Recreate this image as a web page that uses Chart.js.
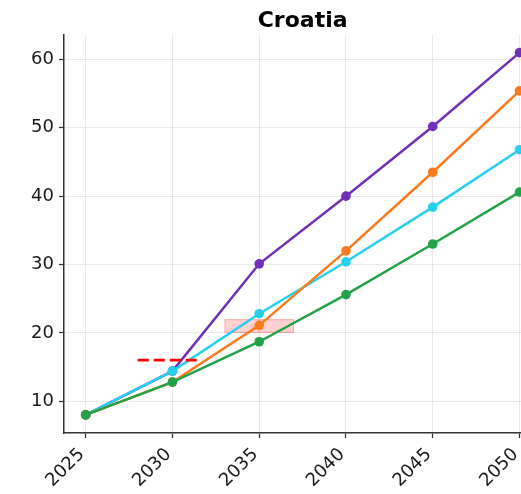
<!DOCTYPE html>
<html>
<head>
<meta charset="utf-8">
<script src="https://cdn.jsdelivr.net/npm/chart.js@4/dist/chart.umd.min.js"></script>
<style>
  html, body { margin: 0; padding: 0; overflow: hidden; background: #fff; }
  canvas { display: block; }
</style>
</head>
<body>
<canvas id="c" width="546" height="494"></canvas>
<script>
// Projection years and tick labels
const years = [2025, 2030, 2035, 2040, 2045, 2050];
const yTickValues = [10, 20, 30, 40, 50, 60];

// Scenario series
const purpleSeries = [8.0, 14.4, 30.1, 40.0, 50.2, 61.0];
const orangeSeries = [8.0, 12.8, 21.1, 32.0, 43.5, 55.4];
const cyanSeries   = [8.0, 14.4, 22.8, 30.4, 38.4, 46.8];
const greenSeries  = [8.0, 12.8, 18.7, 25.6, 33.0, 40.6];

// Reference marker (dashed) and highlighted band
const markerX = [2028, 2031.7];
const markerY = [16, 16];
const bandX = [2033, 2037];
const bandY = [20, 22];

const titleText = 'Croatia';

const FONT = "'DejaVu Sans', sans-serif";

function series(vals) {
  return years.map((yr, i) => ({ x: yr, y: vals[i] }));
}

function lineSet(vals, color, order) {
  return {
    data: series(vals),
    borderColor: color,
    backgroundColor: color,
    borderWidth: 2.5,
    pointRadius: 4.8,
    pointBorderWidth: 0,
    pointBackgroundColor: color,
    tension: 0,
    order: order
  };
}

// Shaded band drawn underneath the series lines
const bandPlugin = {
  id: 'band',
  beforeDatasetsDraw(chart) {
    const { ctx, scales: { x, y } } = chart;
    const x0 = x.getPixelForValue(bandX[0]);
    const x1 = x.getPixelForValue(bandX[1]);
    const y0 = y.getPixelForValue(bandY[1]);
    const y1 = y.getPixelForValue(bandY[0]);
    ctx.save();
    ctx.fillStyle = 'rgba(255, 0, 0, 0.18)';
    ctx.fillRect(x0, y0, x1 - x0, y1 - y0);
    ctx.strokeStyle = 'rgba(255, 0, 0, 0.22)';
    ctx.lineWidth = 1;
    ctx.strokeRect(x0 + 0.5, y0 + 0.5, x1 - x0 - 1, y1 - y0 - 1);
    ctx.restore();
  }
};

// Title centred over the plotting area
const titlePlugin = {
  id: 'axesTitle',
  afterDraw(chart) {
    const { ctx, chartArea } = chart;
    ctx.save();
    ctx.font = "bold 22px " + FONT;
    ctx.fillStyle = '#000';
    ctx.textAlign = 'center';
    ctx.textBaseline = 'alphabetic';
    ctx.fillText(titleText, (chartArea.left + chartArea.right) / 2, 26.5);
    ctx.restore();
  }
};

new Chart(document.getElementById('c'), {
  type: 'line',
  data: {
    datasets: [
      lineSet(purpleSeries, '#7030b8', 4),
      lineSet(cyanSeries, '#26d0ec', 3),
      lineSet(orangeSeries, '#fb7a1c', 2),
      lineSet(greenSeries, '#22a34a', 1),
      {
        data: markerX.map((v, i) => ({ x: v, y: markerY[i] })),
        borderColor: '#ff0000',
        borderWidth: 2.8,
        borderDash: [11, 5],
        pointRadius: 0,
        tension: 0,
        order: 0
      }
    ]
  },
  options: {
    responsive: false,
    animation: false,
    layout: { padding: { top: 34.5, left: 0, right: 0, bottom: 0 } },
    plugins: {
      legend: { display: false },
      tooltip: { enabled: false },
      title: { display: false }
    },
    scales: {
      x: {
        type: 'linear',
        min: 2023.75,
        max: 2051.25,
        afterBuildTicks(scale) { scale.ticks = years.map(v => ({ value: v })); },
        afterFit(scale) { scale.height = 61; },
        ticks: {
          autoSkip: false,
          maxRotation: 45,
          minRotation: 45,
          padding: 6,
          labelOffset: -4,
          color: '#1a1a1a',
          font: { family: FONT, size: 18 },
          callback: v => String(v)
        },
        grid: {
          color: 'rgba(0,0,0,0.085)',
          lineWidth: 1,
          drawTicks: true,
          tickLength: 5,
          tickColor: '#333',
          tickWidth: 1.25
        },
        border: { display: true, color: '#333', width: 1.5 }
      },
      y: {
        type: 'linear',
        min: 5.35,
        max: 63.65,
        afterBuildTicks(scale) { scale.ticks = yTickValues.map(v => ({ value: v })); },
        afterFit(scale) { scale.width = 64; },
        ticks: {
          padding: 5,
          color: '#1a1a1a',
          font: { family: FONT, size: 18 },
          callback: v => String(v)
        },
        grid: {
          color: 'rgba(0,0,0,0.085)',
          lineWidth: 1,
          drawTicks: true,
          tickLength: 5,
          tickColor: '#333',
          tickWidth: 1.25
        },
        border: { display: true, color: '#333', width: 1.5 }
      }
    }
  },
  plugins: [bandPlugin, titlePlugin]
});
</script>
</body>
</html>
